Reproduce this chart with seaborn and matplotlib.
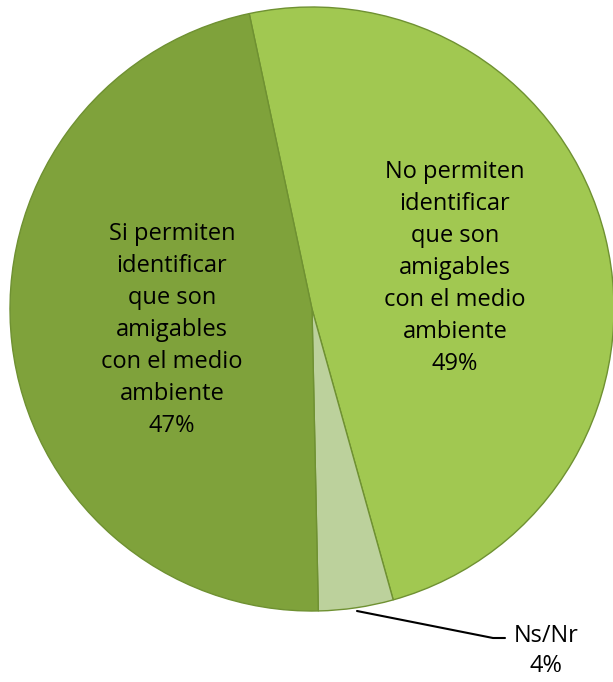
import matplotlib
matplotlib.use("Agg")
import matplotlib.pyplot as plt
import seaborn as sns

sns.set_theme(style="white")
plt.rcParams['font.family'] = ['Open Sans', 'DejaVu Sans']

categories = ["No permiten\nidentificar\nque son\namigables\ncon el medio\nambiente",
              "Ns/Nr",
              "Si permiten\nidentificar\nque son\namigables\ncon el medio\nambiente"]
values = [49, 4, 47]
colors = ["#A1C851", "#BCD19C", "#7FA23B"]

fig = plt.figure(figsize=(6.13, 6.82), dpi=100)
W, H = 613, 682
cx, cy, r = 312, 309, 302
ax = fig.add_axes([(cx - r) / W, (H - cy - r) / H, 2 * r / W, 2 * r / H])

wedges, _ = ax.pie(values, colors=colors, startangle=102, counterclock=False,
                   wedgeprops=dict(edgecolor="#6F9132", linewidth=1.0))
ax.set_xlim(-1, 1)
ax.set_ylim(-1, 1)
ax.set_aspect('equal')
ax.axis('off')

def px(x, y):
    return (x - cx) / r, (cy - y) / r

fs = 17
ls = 1.45
tx, ty = px(455, 268)
ax.text(tx, ty, f"{categories[0]}\n{values[0]}%", ha='center', va='center',
        fontsize=fs, linespacing=ls, color='black')
tx, ty = px(172, 330)
ax.text(tx, ty, f"{categories[2]}\n{values[2]}%", ha='center', va='center',
        fontsize=fs, linespacing=ls, color='black')
tx, ty = px(546, 651)
ax.text(tx, ty, f"{categories[1]}\n{values[1]}%", ha='center', va='center',
        fontsize=fs, linespacing=1.3, color='black', clip_on=False)

p1 = px(357, 611)
p2 = px(493, 638)
p3 = px(505, 638)
ax.plot([p1[0], p2[0], p3[0]], [p1[1], p2[1], p3[1]], color='black', lw=1.5,
        clip_on=False)

fig.savefig("out.png", dpi=100)
